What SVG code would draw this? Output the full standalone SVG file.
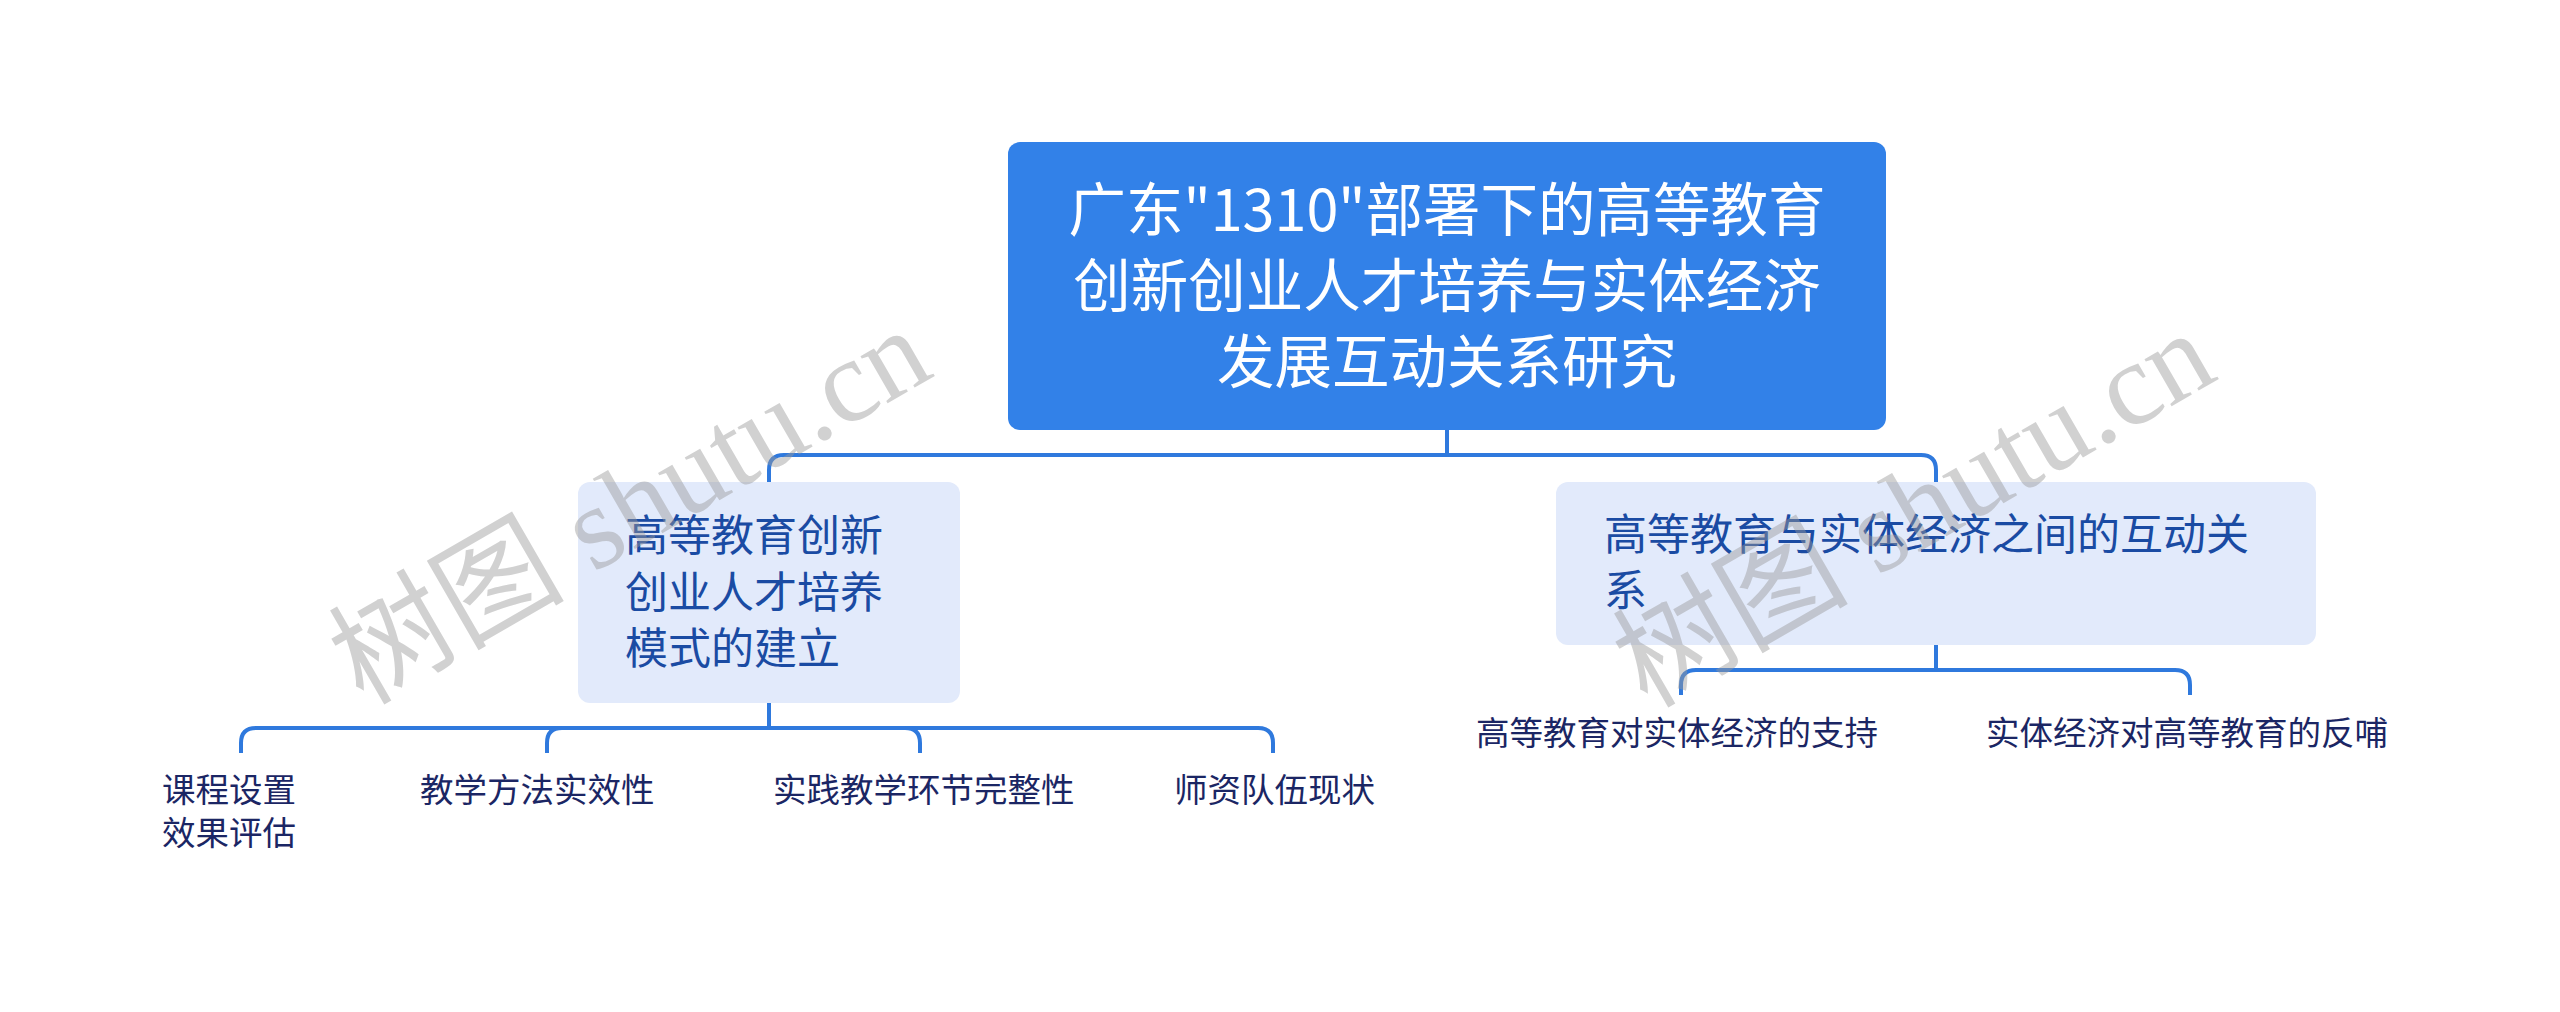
<svg xmlns="http://www.w3.org/2000/svg" width="2560" height="1012" viewBox="0 0 2560 1012">
<style>
.cjk{font-family:"Noto Sans CJK SC","Noto Sans",sans-serif;}
.root-box{fill:#3281E8;}
.root-text{fill:#ffffff;font-size:57.5px;text-anchor:middle;}
.sub-box{fill:#E2EAFB;}
.sub-text{fill:#1A4BA3;font-size:43px;}
.leaf-text{fill:#1B2664;font-size:33.5px;}
.conn{fill:none;stroke:#2F79DD;stroke-width:4;stroke-linecap:butt;stroke-linejoin:round;}
.wm{fill:#9a9a9a;opacity:0.45;font-size:118px;}
</style>
<rect width="2560" height="1012" fill="#ffffff"/>
<g id="connectors">
  <path class="conn" d="M1447,430 V455"/>
  <path class="conn" d="M769,482 V470 Q769,455 784,455 H1921 Q1936,455 1936,470 V482"/>
  <path class="conn" d="M769,703 V728"/>
  <path class="conn" d="M241,753 V743 Q241,728 256,728 H1258 Q1273,728 1273,743 V753"/>
  <path class="conn" d="M547,753 V743 Q547,728 562,728"/>
  <path class="conn" d="M920,753 V743 Q920,728 905,728"/>
  <path class="conn" d="M1936,645 V670"/>
  <path class="conn" d="M1681,695 V685 Q1681,670 1696,670 H2175 Q2190,670 2190,685 V695"/>
</g>
<g id="root">
  <rect class="root-box" x="1008" y="142" width="878" height="288" rx="12" ry="12"/>
  <text class="cjk root-text" x="1447" y="231">广东"1310"部署下的高等教育</text>
  <text class="cjk root-text" x="1447" y="307">创新创业人才培养与实体经济</text>
  <text class="cjk root-text" x="1447" y="383">发展互动关系研究</text>
</g>
<g id="node-left">
  <rect class="sub-box" x="578" y="482" width="382" height="221" rx="12" ry="12"/>
  <text class="cjk sub-text" x="625" y="551">高等教育创新</text>
  <text class="cjk sub-text" x="625" y="607.5">创业人才培养</text>
  <text class="cjk sub-text" x="625" y="664">模式的建立</text>
</g>
<g id="node-right">
  <rect class="sub-box" x="1556" y="482" width="760" height="163" rx="12" ry="12"/>
  <text class="cjk sub-text" x="1604" y="550">高等教育与实体经济之间的互动关</text>
  <text class="cjk sub-text" x="1604" y="606">系</text>
</g>
<g id="leaf-1">
  <text class="cjk leaf-text" x="162" y="802">课程设置</text>
  <text class="cjk leaf-text" x="162" y="845">效果评估</text>
</g>
<g id="leaf-2">
  <text class="cjk leaf-text" x="420" y="802">教学方法实效性</text>
</g>
<g id="leaf-3">
  <text class="cjk leaf-text" x="773" y="802">实践教学环节完整性</text>
</g>
<g id="leaf-4">
  <text class="cjk leaf-text" x="1174" y="802">师资队伍现状</text>
</g>
<g id="leaf-5">
  <text class="cjk leaf-text" x="1476" y="745">高等教育对实体经济的支持</text>
</g>
<g id="leaf-6">
  <text class="cjk leaf-text" x="1986" y="745">实体经济对高等教育的反哺</text>
</g>
<g id="watermarks">
  <text class="wm" transform="translate(363,706) rotate(-30)"><tspan font-family="'Noto Sans CJK SC',sans-serif">树图</tspan><tspan font-family="'Liberation Serif',serif"> shutu.cn</tspan></text>
  <text class="wm" transform="translate(1647,709) rotate(-30)"><tspan font-family="'Noto Sans CJK SC',sans-serif">树图</tspan><tspan font-family="'Liberation Serif',serif"> shutu.cn</tspan></text>
</g>
</svg>
